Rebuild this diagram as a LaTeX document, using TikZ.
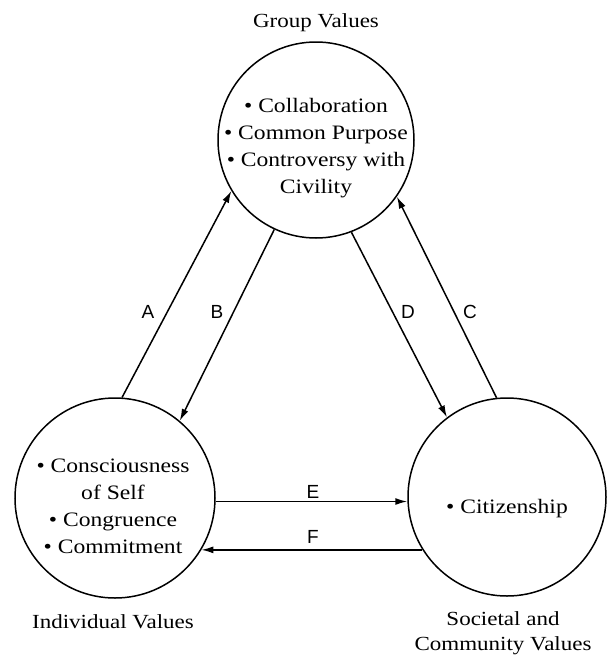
\documentclass[tikz,border=0pt]{standalone}
\usepackage{fontspec}
\setmainfont{Liberation Serif}[FakeStretch=1.15]
\setsansfont{Liberation Sans}
\usetikzlibrary{arrows.meta}

\begin{document}
\begin{tikzpicture}[x=1pt,y=-1pt,>={Latex[length=12pt,width=7pt]}]
  \tikzset{
    valuecircle/.style={circle,draw=black,line width=1.5pt,inner sep=0pt},
    items/.style={align=center,inner sep=0pt,font=\fontsize{20.5}{27}\selectfont},
    link/.style={->,line width=1.5pt},
    lbl/.style={font=\sffamily\fontsize{19}{19}\selectfont,inner sep=0pt},
    caption/.style={font=\fontsize{20}{25}\selectfont,align=center,inner sep=0pt},
  }
  \useasboundingbox (0,0) rectangle (608,656);

  \node[valuecircle,minimum size=196pt] (group) at (316,140) {};
  \node[valuecircle,minimum size=200pt] (indiv) at (115,498) {};
  \node[valuecircle,minimum size=198pt] (society) at (507,497) {};

  \node[items] (groupitems) at (316,148)
    {\textbullet\ Collaboration\\ \textbullet\ Common Purpose\\ \textbullet\ Controversy with\\ Civility};
  \node[items] (indivitems) at (113,506)
    {\textbullet\ Consciousness\\ of Self\\ \textbullet\ Congruence\\ \textbullet\ Commitment};
  \node[items] (societyitems) at (507,509) {\textbullet\ Citizenship};

  % links between the three value levels
  \draw[link] (indiv.86) -- (group.211);
  \draw[link] (group.245) -- (indiv.50);
  \draw[link] (group.291) -- (society.127);
  \draw[link] (society.96) -- (group.325);
  \draw[link] (indiv.358) -- (indiv.358 -| society.west);
  \draw[link] (society.212) -- (society.212 -| indiv.-31);

  \node[lbl] (la) at (148,312) {A};
  \node[lbl] (lb) at (217,312) {B};
  \node[lbl] (ld) at (408,312) {D};
  \node[lbl] (lc) at (470,312) {C};
  \node[lbl] (le) at (313,492) {E};
  \node[lbl] (lf) at (313,537) {F};

  \node[caption] (capgroup) at (316,23) {Group Values};
  \node[caption] (capindiv) at (113,622) {Individual Values};
  \node[caption] (capsociety) at (503,633) {Societal and\\ Community Values};
\end{tikzpicture}
\end{document}
